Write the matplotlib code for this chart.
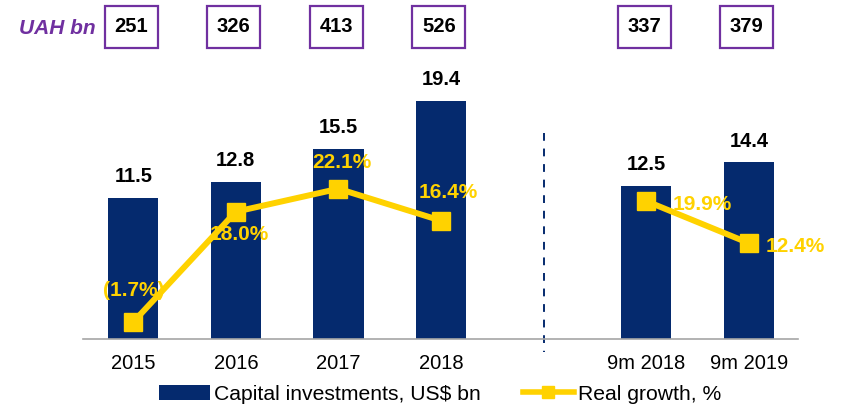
import matplotlib.pyplot as plt
from matplotlib.patches import Rectangle
from matplotlib.lines import Line2D
from matplotlib.patches import Patch
import matplotlib.transforms as mtransforms

plt.rcParams['font.family'] = ['Liberation Sans', 'DejaVu Sans']

# 数据
categories = ['2015', '2016', '2017', '2018', '9m 2018', '9m 2019']
capex = [11.5, 12.8, 15.5, 19.4, 12.5, 14.4]
growth = [-1.7, 18.0, 22.1, 16.4, 19.9, 12.4]
uah = [251, 326, 413, 526, 337, 379]

positions = [0, 1, 2, 3, 5, 6]

navy = '#052A6E'
yellow = '#FFD200'
purple = '#7030A0'

W, H = 841, 408
fig = plt.figure(figsize=(W / 100, H / 100), dpi=100)
ax = fig.add_axes([83 / W, (H - 339) / H, (798 - 83) / W, (339 - 60) / H])

ax.bar(positions, capex, width=0.49, color=navy, zorder=2)
ax.set_xlim(-0.49, 6.48)
ax.set_ylim(0, 22.74)
for x, v in zip(positions, capex):
    ax.annotate(f'{v:.1f}', (x, v), xytext=(0, 21), textcoords='offset pixels',
                ha='center', va='center', fontsize=14.5, fontweight='bold', color='black')

ax.set_xticks(positions)
ax.set_xticklabels(categories, fontsize=14.5)
ax.tick_params(axis='x', length=0, pad=11)
ax.set_yticks([])
for s in ['left', 'right', 'top']:
    ax.spines[s].set_visible(False)
ax.spines['bottom'].set_color('#A6A6A6')
ax.spines['bottom'].set_linewidth(1.2)

# 分隔虚线
ax.plot([4, 4], [16.8, -1.06], color=navy, linestyle=(0, (4, 4)), linewidth=1.4, clip_on=False)

# 增长率折线
ax2 = ax.twinx()
ax2.set_ylim(-4.73, 45.09)
ax2.set_yticks([])
for s in ['left', 'right', 'top', 'bottom']:
    ax2.spines[s].set_visible(False)
ax2.plot(positions[:4], growth[:4], color=yellow, linewidth=4.3, marker='s', markersize=13, zorder=3)
ax2.plot(positions[4:], growth[4:], color=yellow, linewidth=4.3, marker='s', markersize=13, zorder=3)

label_offsets = [(0, 32, 'center'), (3, -23, 'center'), (3, 26, 'center'),
                 (7, 28, 'center'), (26, -3, 'left'), (17, -3, 'left')]
for x, v, (dx, dy, ha) in zip(positions, growth, label_offsets):
    txt = f'({abs(v):.1f}%)' if v < 0 else f'{v:.1f}%'
    ax2.annotate(txt, (x, v), xytext=(dx, dy), textcoords='offset pixels',
                 ha=ha, va='center', fontsize=15, fontweight='bold', color=yellow, zorder=4)

# 顶部 UAH 方框
trans = mtransforms.blended_transform_factory(ax.transData, ax.transAxes)
bw = 53 / 102.5
by0 = (339 - 48) / 279
bh = 42 / 279
for x, v in zip(positions, uah):
    ax.add_patch(Rectangle((x - 0.02 - bw / 2, by0), bw, bh, transform=trans, fill=False,
                           edgecolor=purple, linewidth=1.6, clip_on=False))
    ax.text(x - 0.02, by0 + bh / 2, str(v), transform=trans, ha='center', va='center',
            fontsize=14.5, fontweight='bold', color='black')
fig.text(19 / W, 1 - 28 / H, 'UAH bn', ha='left', va='center', fontsize=15,
         fontweight='bold', fontstyle='italic', color=purple)

# 图例
handles = [Patch(facecolor=navy, edgecolor='none'),
           Line2D([0], [0], color=yellow, linewidth=4, marker='s', markersize=8)]
fig.legend(handles, ['Capital investments, US$ bn', 'Real growth, %'],
           loc='center', bbox_to_anchor=(440 / W, 1 - 394 / H), ncol=2, frameon=False,
           fontsize=15.2, handlelength=2.4, handletextpad=0.2, columnspacing=2.0,
           borderaxespad=0, borderpad=0)

fig.savefig('out.png', dpi=100)
